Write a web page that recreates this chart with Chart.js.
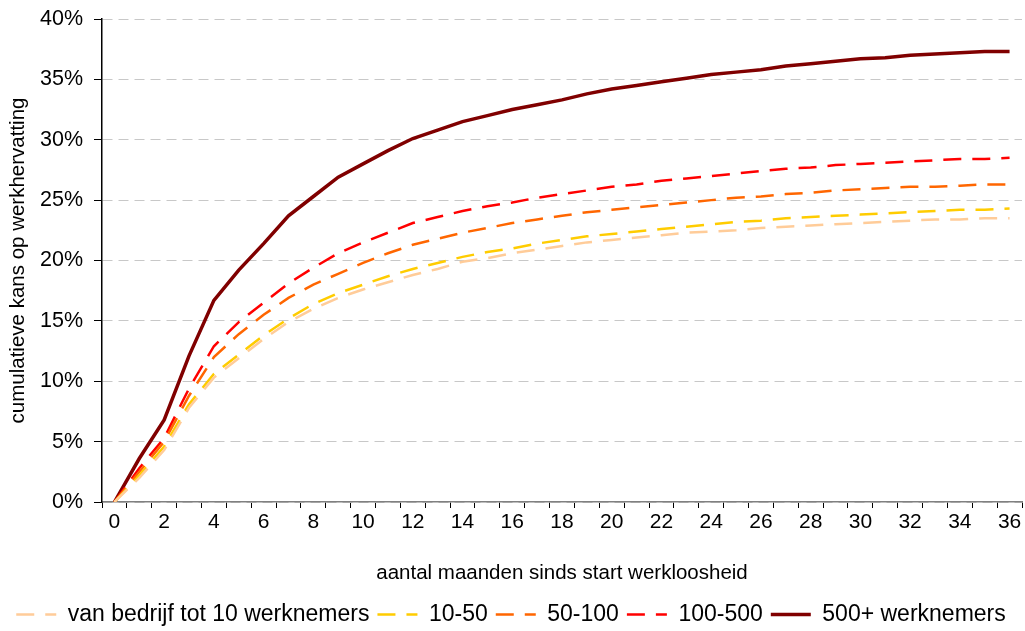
<!DOCTYPE html>
<html>
<head>
<meta charset="utf-8">
<script src="https://cdn.jsdelivr.net/npm/chart.js@4.4.1/dist/chart.umd.min.js"></script>
<style>
  body { margin: 0; background: #fff; }
  #wrap { width: 1025px; height: 631px; }
</style>
</head>
<body>
<div id="wrap"><canvas id="myChart"></canvas></div>
<script>
// maanden 0..36
var months = []
for (var m = 0; m <= 36; m++) months.push(String(m))

var tot10 =   [0, 2.0, 4.3, 7.8, 10.3, 11.9, 13.5, 14.9, 16.0, 16.9, 17.6, 18.2, 18.8, 19.3, 19.9, 20.2, 20.6, 20.9, 21.2, 21.5, 21.7, 21.9, 22.1, 22.3, 22.4, 22.5, 22.7, 22.8, 22.9, 23.0, 23.1, 23.2, 23.3, 23.4, 23.4, 23.5, 23.5]
var w10_50 =  [0, 2.2, 4.6, 8.1, 10.6, 12.2, 13.8, 15.2, 16.4, 17.3, 18.0, 18.7, 19.3, 19.8, 20.3, 20.7, 21.0, 21.4, 21.7, 22.0, 22.2, 22.4, 22.6, 22.8, 23.0, 23.2, 23.3, 23.5, 23.6, 23.7, 23.8, 23.9, 24.0, 24.1, 24.2, 24.2, 24.3]
var w50_100 = [0, 2.5, 5.0, 8.8, 12.0, 13.9, 15.5, 16.9, 18.0, 18.9, 19.8, 20.6, 21.3, 21.8, 22.3, 22.7, 23.1, 23.4, 23.7, 24.0, 24.2, 24.4, 24.6, 24.8, 25.0, 25.2, 25.3, 25.5, 25.6, 25.8, 25.9, 26.0, 26.1, 26.1, 26.2, 26.3, 26.3]
var w100_500 = [0, 2.8, 5.3, 9.4, 12.9, 14.9, 16.5, 18.1, 19.4, 20.6, 21.5, 22.3, 23.1, 23.6, 24.1, 24.5, 24.8, 25.2, 25.5, 25.8, 26.1, 26.3, 26.6, 26.8, 27.0, 27.2, 27.4, 27.6, 27.7, 27.9, 28.0, 28.1, 28.2, 28.3, 28.4, 28.4, 28.5]
var w500plus = [0, 3.6, 6.8, 12.1, 16.7, 19.2, 21.4, 23.7, 25.3, 26.9, 28.0, 29.1, 30.1, 30.8, 31.5, 32.0, 32.5, 32.9, 33.3, 33.8, 34.2, 34.5, 34.8, 35.1, 35.4, 35.6, 35.8, 36.1, 36.3, 36.5, 36.7, 36.8, 37.0, 37.1, 37.2, 37.3, 37.3]

var yTicks = [0, 5, 10, 15, 20, 25, 30, 35, 40]

var FONT = "Arial, 'Liberation Sans', sans-serif"
var dash = [18, 11]

var ctx = document.getElementById("myChart").getContext('2d')

var chart = new Chart(ctx, {
    type: 'line',
    data: {
        labels: months,
        datasets: [
            { label: "van bedrijf tot 10 werknemers", data: tot10, borderColor: "#FFCC99", backgroundColor: "#FFCC99", borderWidth: 2.5, borderDash: dash },
            { label: "10-50", data: w10_50, borderColor: "#FFCC00", backgroundColor: "#FFCC00", borderWidth: 2.5, borderDash: dash },
            { label: "50-100", data: w50_100, borderColor: "#FF6600", backgroundColor: "#FF6600", borderWidth: 2.5, borderDash: dash },
            { label: "100-500", data: w100_500, borderColor: "#FF0000", backgroundColor: "#FF0000", borderWidth: 2.5, borderDash: dash },
            { label: "500+ werknemers", data: w500plus, borderColor: "#800000", backgroundColor: "#800000", borderWidth: 3.5 }
        ]
    },
    options: {
        responsive: true,
        maintainAspectRatio: false,
        animation: false,
        elements: { point: { radius: 0 }, line: { tension: 0 } },
        layout: { padding: { top: 19, right: 3, left: 0, bottom: -5 } },
        plugins: {
            tooltip: { enabled: false },
            legend: {
                position: 'bottom',
                labels: {
                    usePointStyle: true,
                    pointStyle: 'line',
                    pointStyleWidth: 40,
                    boxHeight: 23,
                    padding: 8,
                    color: '#000',
                    font: { family: FONT, size: 23 },
                    // the line point style loses the dash, put it back
                    generateLabels: function(chart) {
                        var items = Chart.defaults.plugins.legend.labels.generateLabels(chart)
                        items.forEach(function(it) {
                            it.lineDash = chart.data.datasets[it.datasetIndex].borderDash || []
                        })
                        return items
                    }
                }
            }
        },
        scales: {
            x: {
                offset: true,
                grid: { display: true, drawOnChartArea: false, offset: true, tickLength: 6, tickColor: '#000' },
                border: { color: '#808080', width: 1.5 },
                ticks: {
                    autoSkip: false, maxRotation: 0, padding: 2, color: '#000',
                    font: { family: FONT, size: 21 },
                    callback: function(v, i) { return i % 2 === 0 ? months[i] : '' }
                },
                title: { display: true, text: 'aantal maanden sinds start werkloosheid', color: '#000', font: { family: FONT, size: 20.5 }, padding: { top: 4, bottom: 9 } },
                afterFit: function(s) { s.height = 93 }
            },
            y: {
                min: 0, max: 40,
                afterBuildTicks: function(s) { s.ticks = yTicks.map(function(v) { return { value: v } }) },
                grid: { color: '#C8C8C8', tickLength: 8, tickColor: '#000' },
                border: { color: '#000', width: 1.5, dash: [10, 6] },
                ticks: { padding: 11, color: '#000', font: { family: FONT, size: 21.5 }, callback: function(v) { return v + '%' } },
                title: { display: true, text: 'cumulatieve kans op werkhervatting', color: '#000', font: { family: FONT, size: 20.5 }, padding: { top: 6, bottom: 0 } },
                afterFit: function(s) { s.width = 102; s.paddingTop = 0; s.paddingBottom = 0 }
            }
        }
    }
})
</script>
</body>
</html>
